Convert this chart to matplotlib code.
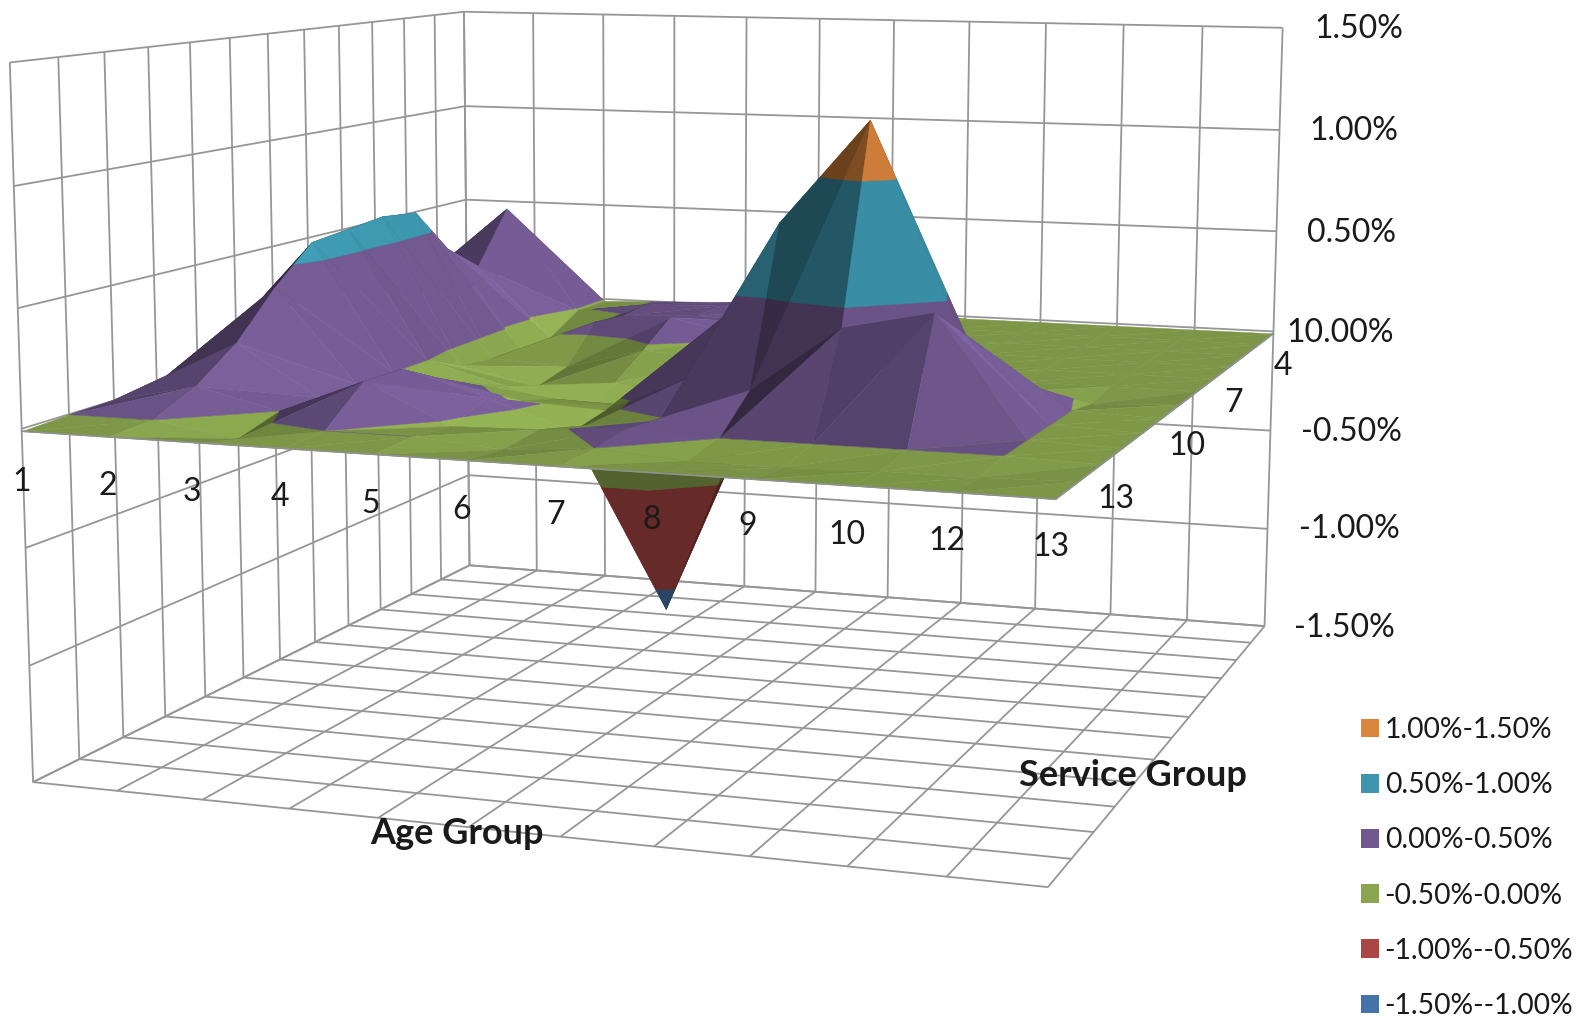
import numpy as np
import matplotlib
matplotlib.use("Agg")
import matplotlib.pyplot as plt
from matplotlib.patches import Patch
from mpl_toolkits.mplot3d.art3d import Poly3DCollection

W, H = 1584, 1017

age_labels = ["1", "2", "3", "4", "5", "6", "7", "8", "9", "10", "12", "13"]
service_groups = [13, 12, 11, 10, 9, 8, 7, 6, 5, 4, 3, 2, 1]
service_labels = ["4", "7", "10", "13"]
value_labels = ["1.50%", "1.00%", "0.50%", "10.00%", "-0.50%", "-1.00%", "-1.50%"]
value_ticks = [-1.5, -1.0, -0.5, 0.0, 0.5, 1.0, 1.5]

# percent difference by age group (columns), one list per service group
s13 = [-.01, -.01, -.01, -.01, -.01, -.01, -.01, -.01, -.01, -.01, -.01, -.01]
s12 = [0.0, 0.0, -.055, 0.0, 0.0, -.03, 0.0, -.03, -.03, -.02, -.02, -.01]
s11 = [.005, .085, 0.0, .15, -.02, -.01, .02, 0.0, 0.0, 0.0, 0.0, -.01]
s10 = [.02, .22, 0.0, .146, .04, -.08, -.005, .14, .42, .5, 0.0, -.01]
s9 = [.03, .42, 0.0, .05, -.03, -.05, .12, .8, 1.245, .38, 0.0, -.01]
s8 = [.14, .58, 0.0, -.08, -.08, -.09, .32, .55, .6, .15, 0.0, -.01]
s7 = [.2, .6, 0.0, -.1, -.2, -1.1, -.15, .1, .1, 0.0, -.03, -.01]
s6 = [.2, .62, -.08, -.16, -.12, -.2, .02, .02, 0.0, -.01, -.01, -.01]
s5 = [.2, .6, -.1, -.12, -.02, -.05, .02, 0.0, -.01, -.01, -.01, -.01]
s4 = [.15, .38, -.12, .05, .09, .01, .02, 0.0, -.01, -.01, -.01, -.01]
s3 = [.1, .25, -.1, .03, .05, .03, 0.0, -.01, -.01, -.01, -.01, -.01]
s2 = [.05, .505, -.01, .04, .05, .05, .03, -.01, -.01, -.01, -.01, -.01]
s1 = [.02, .2, -.01, .005, .02, .02, .01, -.01, -.01, -.01, -.01, -.01]

band_edges = [-1.5, -1.0, -0.5, 0.0, 0.5, 1.0, 1.5]
band_colors = ["#4572A7", "#AA4643", "#89A54E", "#71588F", "#3D96AE", "#DB843D"]
band_names = ["-1.50%--1.00%", "-1.00%--0.50%", "-0.50%-0.00%",
              "0.00%-0.50%", "0.50%-1.00%", "1.00%-1.50%"]

plt.rcParams["font.family"] = ["Lato", "DejaVu Sans"]
plt.rcParams["grid.color"] = "#969696"
plt.rcParams["grid.linewidth"] = 1.3

Z = np.array([s13, s12, s11, s10, s9, s8, s7, s6, s5, s4, s3, s2, s1])
age_pos = np.arange(1, len(age_labels) + 1)
service = np.array(service_groups)


def camera_matrix():
    # fit a 3x4 camera from where the box corners should land (pixels, y down)
    pairs = [
        ((1, 13, 1.5), (10, 62)), ((1, 13, 0), (22, 428)), ((1, 13, -1.5), (33, 783)),
        ((1, 1, 1.5), (464, 12)), ((1, 1, 0.5), (465, 200)), ((1, 1, -1.5), (470, 565)),
        ((12, 1, 1.5), (1283, 28)), ((12, 1, 0), (1273, 331)), ((12, 1, -1.5), (1265, 626)),
        ((12, 13, 0), (1056, 497)), ((12, 13, -1.5), (1047, 887)),
    ]
    rows = []
    for (x, y, z), (u, v) in pairs:
        u, v = u / 1000, v / 1000
        rows.append([x, y, z, 1, 0, 0, 0, 0, -u * x, -u * y, -u * z, -u])
        rows.append([0, 0, 0, 0, x, y, z, 1, -v * x, -v * y, -v * z, -v])
    P = np.linalg.svd(np.array(rows))[2][-1].reshape(3, 4)
    if P[2] @ [6.5, 7, 0, 1] < 0:
        P = -P
    return P


def clip_band(poly, lo, hi):
    # cut a polygon down to the part between two z levels
    for level, keep_above in ((lo, True), (hi, False)):
        out = []
        for k in range(len(poly)):
            a, b = poly[k], poly[(k + 1) % len(poly)]
            in_a = a[2] >= level if keep_above else a[2] <= level
            in_b = b[2] >= level if keep_above else b[2] <= level
            if in_a:
                out.append(a)
            if in_a != in_b:
                t = (level - a[2]) / (b[2] - a[2])
                out.append(tuple(a[m] + t * (b[m] - a[m]) for m in range(3)))
        poly = out
        if len(poly) < 3:
            return []
    return poly


def shade(tri):
    # flat shading, light comes from the right and above
    p = np.array(tri) * [1.0, -0.85, 4.5]
    n = np.cross(p[1] - p[0], p[2] - p[0])
    n = n / np.linalg.norm(n)
    if n[2] < 0:
        n = -n
    s = 0.45 + 0.657 * max(0.0, n @ [0.68, -0.25, 0.69])
    # faces turned to the back only show from below, keep those from going black
    if n[1] > 0.3:
        s += 0.15
    return s


rgb = [np.array(matplotlib.colors.to_rgb(c)) for c in band_colors]


def cell_polys(i, j, flip):
    # one grid cell as two triangles, the one further from the camera first
    c00 = (age_pos[i], service[j], Z[j, i])
    c10 = (age_pos[i + 1], service[j], Z[j, i + 1])
    c01 = (age_pos[i], service[j + 1], Z[j + 1, i])
    c11 = (age_pos[i + 1], service[j + 1], Z[j + 1, i + 1])
    tris = [(c00, c11, c01), (c00, c10, c11)]
    if flip:
        tris = tris[::-1]
    out = []
    for tri in tris:
        s = shade(tri)
        for b in range(len(band_colors)):
            piece = clip_band(list(tri), band_edges[b], band_edges[b + 1])
            if piece:
                out.append((piece, np.clip(rgb[b] * s, 0, 1)))
    return out


fig = plt.figure(figsize=(W / 100, H / 100), dpi=100)
# the 3d axes stays square, so make it as tall as the figure is wide
ax = fig.add_subplot(projection="3d", computed_zorder=False)
ax.set_position([0, (1 - W / H) / 2, 1, W / H])
ax.apply_aspect()

ax.set_xlim(age_pos[0], age_pos[-1])
ax.set_ylim(service.min(), service.max())
ax.set_zlim(value_ticks[0], value_ticks[-1])
ax.set_proj_type("ortho")

# camera in pixels -> axes 2d coordinates -> matrix that mplot3d expects
P = camera_matrix()
pix_to_disp = np.array([[1000.0, 0, 0], [0, -1000.0, H], [0, 0, 1]])
to_axes = ax.transData.inverted().get_matrix() @ pix_to_disp @ P
w_box = [to_axes[2] @ [x, y, z, 1] for x in (1, 12) for y in (1, 13) for z in (-1.5, 1.5)]
M = np.vstack([to_axes[0], to_axes[1], to_axes[2] - [0, 0, 0, 0.5 * min(w_box)], to_axes[2]])
ax.get_proj = lambda: M

ax.set_xticks(age_pos)
ax.set_yticks(service)
ax.set_zticks(value_ticks)
ax.grid(True)
for axis in (ax.xaxis, ax.yaxis, ax.zaxis):
    axis.set_ticklabels([])
    axis.set_pane_color((1, 1, 1, 0))
    axis.pane.set_edgecolor((1, 1, 1, 0))
    axis.line.set_color((1, 1, 1, 0))
    axis._axinfo["tick"]["inward_factor"] = 0
    axis._axinfo["tick"]["outward_factor"] = 0
ax.tick_params(color=(1, 1, 1, 0))

# draw the cells back to front, working towards the camera in both directions
cam = np.linalg.svd(P)[2][-1]
cam_x = cam[0] / cam[3]
cols = sorted(range(len(age_pos) - 1), key=lambda i: -abs(age_pos[i] + 0.5 - cam_x))
order = 3
for j in range(Z.shape[0] - 2, -1, -1):
    for i in cols:
        pieces = cell_polys(i, j, age_pos[i] + 0.5 > cam_x)
        for poly, color in pieces:
            ax.add_collection3d(Poly3DCollection([poly], facecolors=[color], edgecolors=[color],
                                                 linewidths=0.3, zorder=order))
            order += 1

# grey rim on the two near edges of the surface
ax.plot(age_pos, service[0] * np.ones(len(age_pos)), Z[0], color="#8f8f8f", lw=1.2, zorder=order)
ax.plot(age_pos[-1] * np.ones(len(service)), service, Z[:, -1], color="#8f8f8f", lw=1.2, zorder=order)


def label(x, y, s, size=23, **kw):
    fig.text(x / W, 1 - y / H, s, fontsize=size, ha="center", va="center", color="#1a1a1a", **kw)


age_label_px = [(22, 482), (108, 486), (192, 492), (280, 497), (371, 504), (462, 510),
                (556, 515), (652, 520), (748, 526), (847, 535), (947, 541), (1051, 547)]
for (x, y), s in zip(age_label_px, age_labels):
    label(x, y, s)

service_label_px = [(1283, 366), (1234, 403), (1187, 446), (1116, 499)]
for (x, y), s in zip(service_label_px, service_labels):
    label(x, y, s)

value_label_px = [(1359, 29), (1354, 131), (1352, 233), (1340, 333), (1351, 432), (1349, 529), (1344, 628)]
for (x, y), s in zip(value_label_px, value_labels):
    label(x, y, s)

label(457, 833, "Age Group", size=26, fontweight="bold")
label(1133, 776, "Service Group", size=26, fontweight="bold")

handles = [Patch(facecolor=c, edgecolor="none") for c in band_colors[::-1]]
fig.legend(handles, band_names[::-1], loc="upper left", bbox_to_anchor=(1361 / W, 1 - 717 / H),
           frameon=False, fontsize=20.3, labelspacing=1.035, handlelength=0.64, handleheight=0.64,
           handletextpad=0.2, borderpad=0, borderaxespad=0, labelcolor="#1a1a1a")

fig.savefig("out.png", dpi=100)
